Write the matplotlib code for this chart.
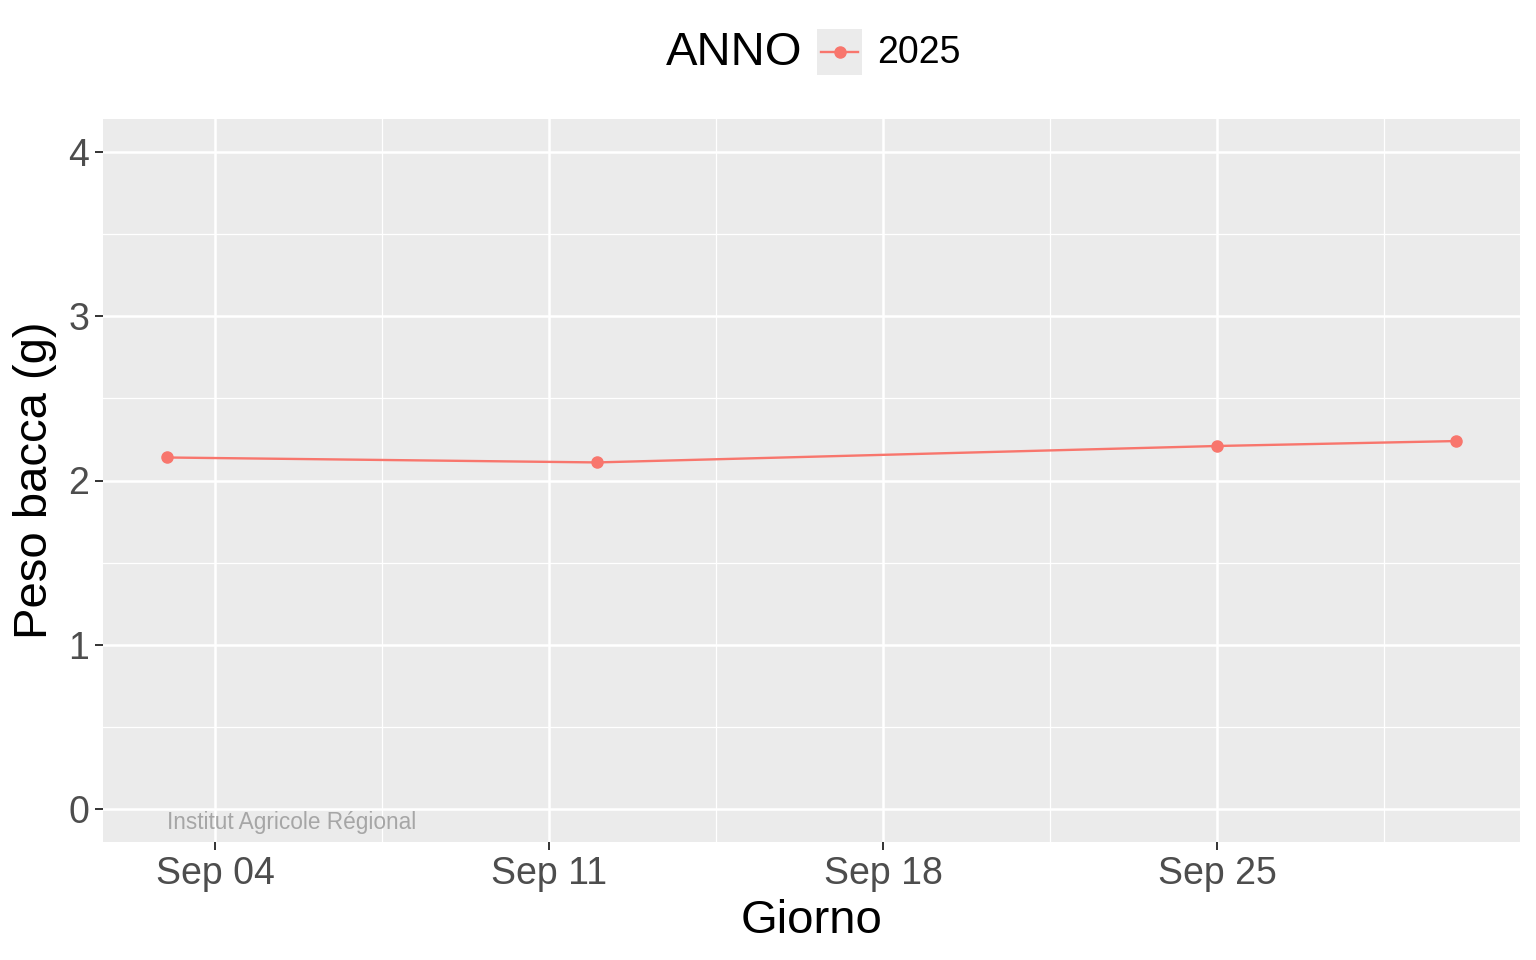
import datetime as dt
import matplotlib
matplotlib.use("Agg")
from matplotlib import pyplot as plt
import matplotlib.dates as mdates
from matplotlib.ticker import MultipleLocator
from matplotlib.patches import Rectangle
from matplotlib.lines import Line2D

# data
giorni = [dt.datetime(2025, 9, 3), dt.datetime(2025, 9, 12),
          dt.datetime(2025, 9, 25), dt.datetime(2025, 9, 30)]
peso = [2.14, 2.11, 2.21, 2.24]
anno = "2025"
x_ticks = [dt.datetime(2025, 9, 4), dt.datetime(2025, 9, 11),
           dt.datetime(2025, 9, 18), dt.datetime(2025, 9, 25)]

col = "#F8766D"
plt.rcParams['font.family'] = ['Liberation Sans', 'DejaVu Sans']

fig = plt.figure(figsize=(15.36, 9.6), dpi=100)
ax = fig.add_axes([103 / 1536, 1 - 842 / 960, 1417 / 1536, 723 / 960])
ax.set_facecolor("#EBEBEB")
for s in ax.spines.values():
    s.set_visible(False)

ax.plot(giorni, peso, color=col, lw=1.7, marker='o', ms=8, zorder=3)

# limits with ggplot-like 5% expansion
span = (giorni[-1] - giorni[0]) * 0.05
ax.set_xlim(giorni[0] - span, giorni[-1] + span)
ax.set_ylim(-0.2, 4.2)

ax.set_xticks(x_ticks)
ax.xaxis.set_major_formatter(mdates.DateFormatter("%b %d"))
minor_x = [t + dt.timedelta(days=3.5) for t in x_ticks]
ax.set_xticks(minor_x, minor=True)
ax.yaxis.set_major_locator(MultipleLocator(1))
ax.yaxis.set_minor_locator(MultipleLocator(0.5))

ax.grid(which='major', color='white', lw=1.8)
ax.grid(which='minor', color='white', lw=0.9)
ax.set_axisbelow(True)

ax.tick_params(which='major', length=6, width=1.4, color='#333333',
               labelsize=27, labelcolor='#4D4D4D', pad=4)
ax.tick_params(which='minor', length=0)

ax.set_xlabel("Giorno", fontsize=34, labelpad=5)
ax.set_ylabel("Peso bacca (g)", fontsize=34, labelpad=8)

ax.annotate("Institut Agricole Régional", xy=(giorni[0], 0), xytext=(0, -1),
            textcoords='offset points', ha='left', va='top',
            fontsize=16.3, color='#A6A6A6')

# legend at top: title on the left of the key
fig.text(802 / 1536, 1 - 53 / 960, "ANNO", fontsize=34, ha='right', va='center')
fig.add_artist(Rectangle((817 / 1536, 1 - 75 / 960), 45 / 1536, 46 / 960,
                         transform=fig.transFigure, facecolor="#EBEBEB",
                         edgecolor='none'))
fig.add_artist(Line2D([821 / 1536, 858 / 1536], [1 - 52 / 960, 1 - 52 / 960],
                      transform=fig.transFigure, color=col, lw=1.7))
fig.add_artist(Line2D([839.5 / 1536], [1 - 52 / 960], transform=fig.transFigure,
                      color=col, marker='o', ms=8, lw=0))
fig.text(877 / 1536, 1 - 53 / 960, anno, fontsize=27, ha='left', va='center')

fig.savefig("out.png", dpi=100)
